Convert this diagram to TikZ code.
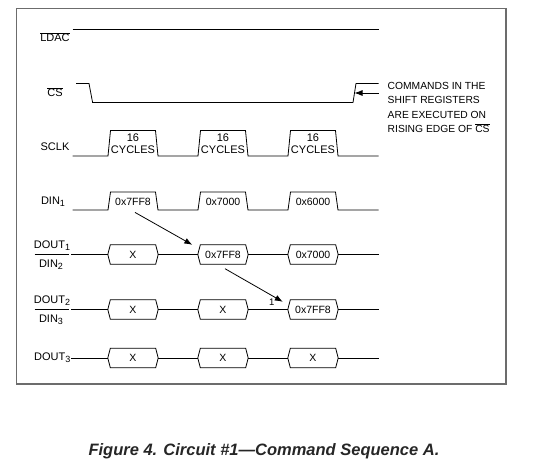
\documentclass[tikz,border=0pt]{standalone}
\usepackage{fontspec}
\setmainfont{Liberation Sans}
\usetikzlibrary{arrows.meta}
\newcommand{\ovl}[1]{$\overline{\hbox{#1}}$}
\newcommand{\lowidx}[1]{\raisebox{-0.35ex}{\fontsize{9}{10}\selectfont #1}}
\tikzset{
  sig/.style={line width=0.8pt},
  lab/.style={font=\fontsize{11}{12}\selectfont, inner sep=0pt},
  txt/.style={font=\fontsize{10.5}{11.5}\selectfont, inner sep=0pt, align=center},
  hexbox/.style={txt, minimum width=45pt, minimum height=19pt},
  arr/.style={sig, -{Latex[length=8pt,width=6pt]}}
}
\begin{document}
\begin{tikzpicture}[x=1pt,y=-1pt]
\useasboundingbox (0,0) rectangle (542,464);
\draw[gray!85!black, line width=1.5pt] (16.6,8.6) rectangle (506,384);

% LDAC and CS
\node[lab] (ldac) at (55,37) {\ovl{LDAC}};
\draw[sig] (72.6,29.5) -- (378.5,29.5);
\node[lab] (cs) at (55,92) {\ovl{CS}};
\draw[sig] (76,83.5) -- (89,83.5) -- (92.6,102.5) -- (353,102.5)
  -- coordinate[pos=0.5] (csrise) (356,83.5) -- (378.5,83.5);
\node[txt, align=left, anchor=west, font=\fontsize{10.3}{14.3}\selectfont] (note) at (387.5,107.5)
  {COMMANDS IN THE\\SHIFT REGISTERS\\ARE EXECUTED ON\\RISING EDGE OF \ovl{CS}};
\coordinate (noteend) at (378.5,93);
\draw[arr] (noteend) -- (noteend -| csrise);

% SCLK and DIN1
\node[lab] (sclk) at (55,147) {SCLK};
\node[lab] (din) at (53,202) {DIN\lowidx{1}};
\foreach \x/\t [count=\i] in {133/0x7FF8,223/0x7000,313/0x6000} {
  \node[txt, font=\fontsize{11}{12}\selectfont] (cyc\i) at (\x,143.5) {16\\CYCLES};
  \node[txt] (dat\i) at (\x,201.5) {\t};
}
\draw[sig] (72.6,156) foreach \x in {133,223,313} {
  -- (\x-25,156) -- (\x-22.5,130.5) -- (\x+22.5,130.5) -- (\x+25,156) } -- (378.5,156);
\draw[sig] (72.6,210) foreach \x in {133,223,313} {
  -- (\x-25,210) -- (\x-22.5,192) -- (\x+22.5,192) -- (\x+25,210) } -- (378.5,210);

% DOUT rows
\node[lab] (do1) at (52,246) {DOUT\lowidx{1}};
\node[lab] (di2) at (51,265) {DIN\lowidx{2}};
\draw[sig] (34.6,254.5) -- (69.2,254.5);
\node[lab] (do2) at (52,301) {DOUT\lowidx{2}};
\node[lab] (di3) at (51,320) {DIN\lowidx{3}};
\draw[sig] (34.6,309.5) -- (69.2,309.5);
\node[lab, anchor=east] (do3) at (70.5,358) {DOUT\lowidx{3}};

\foreach \r/\y/\ta/\tb/\tc in {1/254.5/X/0x7FF8/0x7000, 2/309.5/X/X/0x7FF8, 3/358/X/X/X} {
  \node[hexbox] (h\r a) at (133,\y) {\ta};
  \node[hexbox] (h\r b) at (223,\y) {\tb};
  \node[hexbox] (h\r c) at (313,\y) {\tc};
  \foreach \n in {a,b,c}
    \draw[sig] (h\r\n.north west) -- (h\r\n.north east) -- ([xshift=2.5pt]h\r\n.east)
      -- (h\r\n.south east) -- (h\r\n.south west) -- ([xshift=-2.5pt]h\r\n.west) -- cycle;
  \draw[sig] (71,\y) -- ([xshift=-2.5pt]h\r a.west)
    ([xshift=2.5pt]h\r a.east) -- ([xshift=-2.5pt]h\r b.west)
    ([xshift=2.5pt]h\r b.east) -- ([xshift=-2.5pt]h\r c.west)
    ([xshift=2.5pt]h\r c.east) -- (378.5,\y);
}

% data shifting
\draw[arr] ([shift={(2,7)}]dat1.south) -- ([shift={(-8,0)}]h1b.north west);
\draw[arr] ([shift={(2,4.5)}]h1b.south) -- node[pos=1, txt, left=8pt, font=\fontsize{9.5}{10}\selectfont] (one) {1}
  ([shift={(-7.5,2)}]h2c.north west);

\node[font=\fontsize{16.5}{18}\selectfont\bfseries\itshape, text=black!85] (caption) at (264,451)
  {Figure 4. Circuit \#1---Command Sequence A.};
\end{tikzpicture}
\end{document}
